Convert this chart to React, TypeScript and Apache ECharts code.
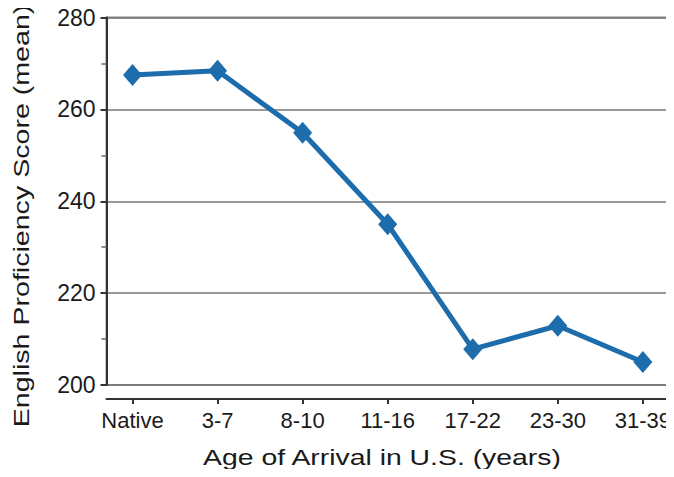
import React, { useEffect, useRef } from "react";
import * as echarts from "echarts";

const categories = ["Native", "3-7", "8-10", "11-16", "17-22", "23-30", "31-39"];
const scores = [267.5, 268.4, 254.9, 235.0, 207.8, 212.9, 205.0];
const yTicks = [200, 220, 240, 260, 280];
const xTitle = "Age of Arrival in U.S. (years)";
const yTitle = "English Proficiency Score (mean)";

const FONT = "Liberation Sans";

export default function App() {
  const ref = useRef<HTMLDivElement>(null);
  useEffect(() => {
    if (!ref.current) return;
    const chart = echarts.init(ref.current, undefined, { renderer: "svg" });
    chart.setOption({
      animation: false,
      backgroundColor: "#ffffff",
      grid: {
        left: 106.5,
        right: 4,
        top: 17.5,
        bottom: 92,
        show: true,
        borderColor: "#8a8a8a",
        borderWidth: 2,
        backgroundColor: "transparent",
      },
      graphic: [
        {
          type: "text",
          x: 382,
          y: 457,
          scaleX: 1.29,
          style: {
            text: xTitle,
            font: `22px "${FONT}"`,
            fill: "#1a1a1a",
            align: "center",
            verticalAlign: "middle",
          },
        },
        {
          type: "text",
          x: 21,
          y: 216,
          rotation: Math.PI / 2,
          scaleX: 1.3,
          style: {
            text: yTitle,
            font: `22px "${FONT}"`,
            fill: "#1a1a1a",
            align: "center",
            verticalAlign: "middle",
          },
        },
      ],
      xAxis: {
        type: "value",
        min: -0.306,
        max: 6.318,
        offset: 14,
        axisLine: { show: true, onZero: false, lineStyle: { color: "#333", width: 2 } },
        axisTick: {
          show: true,
          length: 5,
          customValues: categories.map((_, i) => i),
          lineStyle: { color: "#333", width: 2 },
        },
        axisLabel: {
          customValues: categories.map((_, i) => i),
          formatter: (v: number) => categories[Math.round(v)] ?? "",
          fontFamily: FONT,
          fontSize: 22,
          color: "#1a1a1a",
          margin: 10,
        },
        splitLine: { show: false },
      },
      yAxis: {
        type: "value",
        min: yTicks[0],
        max: yTicks[yTicks.length - 1],
        interval: 20,
        axisLine: { show: true, onZero: false, lineStyle: { color: "#333", width: 2 } },
        axisTick: { show: true, length: 6, lineStyle: { color: "#333", width: 2 } },
        minorTick: { show: true, splitNumber: 2, length: 5, lineStyle: { color: "#666", width: 1.5 } },
        axisLabel: {
          fontFamily: FONT,
          fontSize: 23,
          color: "#1a1a1a",
          margin: 11,
        },
        splitLine: { show: true, lineStyle: { color: "#777", width: 1.5 } },
      },
      series: [
        {
          type: "line",
          data: scores.map((v, i) => [i, v]),
          symbol: "diamond",
          symbolSize: [19, 22],
          lineStyle: { color: "#1d6cab", width: 5 },
          itemStyle: { color: "#1d6cab" },
        },
      ],
    });
    return () => chart.dispose();
  }, []);
  return <div ref={ref} style={{ width: 674, height: 477, margin: -8 }} />;
}
